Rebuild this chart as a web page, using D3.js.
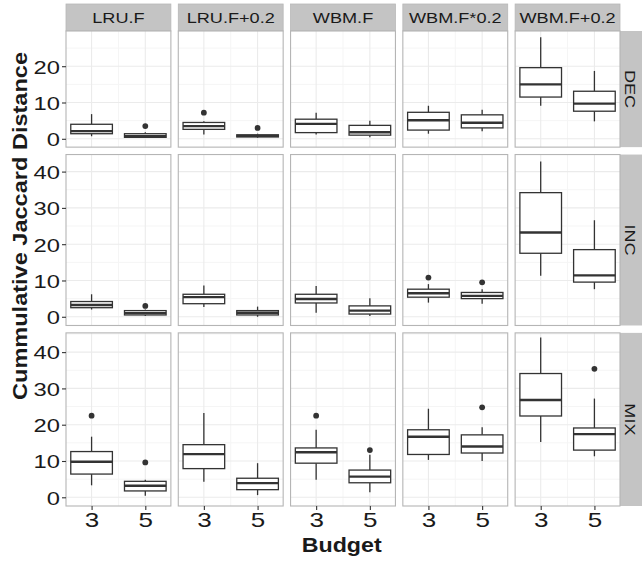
<!DOCTYPE html>
<html>
<head>
<meta charset="utf-8">
<script src="https://cdn.jsdelivr.net/npm/d3@7"></script>
<style>
  html, body { margin: 0; padding: 0; background: #fff; }
  svg { display: block; font-family: "Liberation Sans", Arial, Helvetica, sans-serif; }
</style>
</head>
<body>
<svg id="chart" width="642" height="561"></svg>
<script>
// ---------------- data ----------------
const methods = ["LRU.F", "LRU.F+0.2", "WBM.F", "WBM.F*0.2", "WBM.F+0.2"];
const scenarios = ["DEC", "INC", "MIX"];
const budgets = [3, 5];
const budgetTicks = [3, 5];

// [method, budget, lowerWhisker, q1, median, q3, upperWhisker]
const decStats = [
  ["LRU.F", 3, 0.7, 1.4, 2.1, 4.0, 6.8],
  ["LRU.F", 5, 0.2, 0.4, 0.7, 1.4, 1.8],
  ["LRU.F+0.2", 3, 1.2, 2.6, 3.5, 4.5, 4.8],
  ["LRU.F+0.2", 5, 0.3, 0.5, 0.8, 1.1, 1.4],
  ["WBM.F", 3, 1.2, 1.7, 4.1, 5.4, 7.2],
  ["WBM.F", 5, 0.4, 1.0, 1.8, 3.7, 5.0],
  ["WBM.F*0.2", 3, 1.4, 2.4, 5.1, 7.3, 9.1],
  ["WBM.F*0.2", 5, 2.1, 3.0, 4.4, 6.6, 8.0],
  ["WBM.F+0.2", 3, 9.1, 11.5, 15.0, 19.6, 28.0],
  ["WBM.F+0.2", 5, 4.8, 7.6, 9.7, 13.1, 18.7]
];
const incStats = [
  ["LRU.F", 3, 2.0, 2.5, 3.25, 4.2, 6.2],
  ["LRU.F", 5, 0.2, 0.5, 1.0, 1.7, 2.0],
  ["LRU.F+0.2", 3, 2.7, 3.6, 5.4, 6.2, 8.6],
  ["LRU.F+0.2", 5, 0.0, 0.5, 1.1, 1.7, 2.8],
  ["WBM.F", 3, 1.1, 3.8, 4.9, 6.2, 8.5],
  ["WBM.F", 5, 0.2, 0.75, 1.7, 3.0, 5.1],
  ["WBM.F*0.2", 3, 3.9, 5.4, 6.5, 7.6, 9.0],
  ["WBM.F*0.2", 5, 3.6, 5.0, 5.75, 6.7, 7.6],
  ["WBM.F+0.2", 3, 11.3, 17.5, 23.2, 34.2, 42.8],
  ["WBM.F+0.2", 5, 7.6, 9.55, 11.4, 18.5, 26.6]
];
const mixStats = [
  ["LRU.F", 3, 3.3, 6.4, 9.8, 12.6, 16.7],
  ["LRU.F", 5, 0.4, 1.75, 3.2, 4.4, 4.8],
  ["LRU.F+0.2", 3, 4.3, 7.9, 11.9, 14.5, 23.2],
  ["LRU.F+0.2", 5, 0.6, 2.1, 3.9, 5.25, 9.4],
  ["WBM.F", 3, 4.8, 9.4, 12.4, 13.6, 18.6],
  ["WBM.F", 5, 1.4, 4.0, 5.7, 7.5, 11.7],
  ["WBM.F*0.2", 3, 10.3, 11.8, 16.7, 18.6, 24.4],
  ["WBM.F*0.2", 5, 10.0, 12.2, 14.0, 17.2, 19.3],
  ["WBM.F+0.2", 3, 15.2, 22.4, 26.8, 34.1, 44.0],
  ["WBM.F+0.2", 5, 11.3, 13.0, 17.4, 19.1, 27.2]
];
// [method, budget, value]
const decOutliers = [["LRU.F", 5, 3.5], ["LRU.F+0.2", 3, 7.2], ["LRU.F+0.2", 5, 3.0]];
const incOutliers = [["LRU.F", 5, 3.0], ["WBM.F*0.2", 3, 10.8], ["WBM.F*0.2", 5, 9.5]];
const mixOutliers = [["LRU.F", 3, 22.5], ["LRU.F", 5, 9.6], ["WBM.F", 3, 22.5], ["WBM.F", 5, 13.0],
                     ["WBM.F*0.2", 5, 24.8], ["WBM.F+0.2", 5, 35.4]];

const decTicks = [0, 10, 20];
const incTicks = [0, 10, 20, 30, 40];
const mixTicks = [0, 10, 20, 30, 40];

const statsByRow = [decStats, incStats, mixStats];
const outliersByRow = [decOutliers, incOutliers, mixOutliers];
const ticksByRow = [decTicks, incTicks, mixTicks];
// y-limits of each row (free scales, free space)
const yLimits = [[-2.3, 29.7], [-2.4, 44.7], [-2.4, 45.3]];

// ---------------- layout ----------------
const svg = d3.select("#chart");
const pLeft = 66, pRight = 620, pTop = 31, pBottom = 506;
const gap = 7.4;
const stripH = 27;
const panelW = (pRight - pLeft - gap * (methods.length - 1)) / methods.length;
const totalRange = d3.sum(yLimits, d => d[1] - d[0]);
const panelHs = yLimits.map(d => (pBottom - pTop - gap * (scenarios.length - 1)) * (d[1] - d[0]) / totalRange);
const rowTops = [];
{ let yy = pTop; panelHs.forEach(h => { rowTops.push(yy); yy += h + gap; }); }

const boxW = 1.55;
const xLo = budgets[0] - boxW / 2, xHi = budgets[1] + boxW / 2;
const xPad = (xHi - xLo) * 0.05;
const x = d3.scaleLinear().domain([xLo - xPad, xHi + xPad]).range([0, panelW]);

const textCol = "#1a1a1a";
const lineCol = "#333333";
const gridMajor = "#ebebeb";
const gridMinor = "#f5f5f5";
const borderCol = "#b5b5b5";
const stripFill = "#c4c4c4";

// strips for columns
methods.forEach((m, ci) => {
  const px = pLeft + ci * (panelW + gap);
  const g = svg.append("g").attr("transform", `translate(${px},${pTop - stripH})`);
  g.append("rect").attr("width", panelW).attr("height", stripH)
    .attr("fill", stripFill).attr("stroke", "#b8b8b8").attr("stroke-width", 0.8);
  g.append("text").attr("y", stripH / 2 + 5.6)
    .attr("text-anchor", "middle").attr("font-size", 15.5).attr("fill", textCol)
    .attr("transform", `translate(${panelW / 2},0) scale(1.17,1)`)
    .attr("x", 0)
    .text(m);
});

scenarios.forEach((s, ri) => {
  const py = rowTops[ri], ph = panelHs[ri];
  const y = d3.scaleLinear().domain(yLimits[ri]).range([ph, 0]);
  const major = ticksByRow[ri];
  const minor = d3.range(5, yLimits[ri][1], 10);

  // row strip
  const sg = svg.append("g").attr("transform", `translate(${pRight},${py})`);
  sg.append("rect").attr("width", stripH).attr("height", ph).attr("fill", stripFill);
  sg.append("text").attr("font-size", 15.5).attr("fill", textCol).attr("text-anchor", "middle")
    .attr("transform", `translate(${stripH / 2 - 2.5},${ph / 2}) rotate(90) scale(1.17,1)`)
    .attr("dy", "0.36em")
    .text(s);

  methods.forEach((m, ci) => {
    const px = pLeft + ci * (panelW + gap);
    const g = svg.append("g").attr("transform", `translate(${px},${py})`);
    g.append("rect").attr("width", panelW).attr("height", ph).attr("fill", "#fff");
    // grid
    g.selectAll(".ymin").data(minor).join("line")
      .attr("x1", 0).attr("x2", panelW).attr("y1", d => y(d)).attr("y2", d => y(d))
      .attr("stroke", gridMinor).attr("stroke-width", 1);
    g.selectAll(".xmin").data([4]).join("line")
      .attr("y1", 0).attr("y2", ph).attr("x1", d => x(d)).attr("x2", d => x(d))
      .attr("stroke", gridMinor).attr("stroke-width", 1);
    g.selectAll(".ymaj").data(major).join("line")
      .attr("x1", 0).attr("x2", panelW).attr("y1", d => y(d)).attr("y2", d => y(d))
      .attr("stroke", gridMajor).attr("stroke-width", 1.1);
    g.selectAll(".xmaj").data(budgetTicks).join("line")
      .attr("y1", 0).attr("y2", ph).attr("x1", d => x(d)).attr("x2", d => x(d))
      .attr("stroke", gridMajor).attr("stroke-width", 1.1);

    // boxes
    const rows = statsByRow[ri].filter(d => d[0] === m);
    rows.forEach(d => {
      const [, b, lo, q1, med, q3, hi] = d;
      const cx = x(b), x0 = x(b - boxW / 2), x1 = x(b + boxW / 2);
      g.append("line").attr("x1", cx).attr("x2", cx).attr("y1", y(q3)).attr("y2", y(hi))
        .attr("stroke", lineCol).attr("stroke-width", 1.3);
      g.append("line").attr("x1", cx).attr("x2", cx).attr("y1", y(q1)).attr("y2", y(lo))
        .attr("stroke", lineCol).attr("stroke-width", 1.3);
      g.append("rect").attr("x", x0).attr("width", x1 - x0)
        .attr("y", y(q3)).attr("height", Math.max(0, y(q1) - y(q3)))
        .attr("fill", "#fff").attr("stroke", lineCol).attr("stroke-width", 1.3);
      g.append("line").attr("x1", x0).attr("x2", x1).attr("y1", y(med)).attr("y2", y(med))
        .attr("stroke", lineCol).attr("stroke-width", 2.4);
    });
    g.selectAll(".out").data(outliersByRow[ri].filter(d => d[0] === m)).join("circle")
      .attr("cx", d => x(d[1])).attr("cy", d => y(d[2])).attr("r", 2.9)
      .attr("fill", lineCol);

    g.append("rect").attr("width", panelW).attr("height", ph)
      .attr("fill", "none").attr("stroke", borderCol).attr("stroke-width", 1.1);

    // y axis on first column
    if (ci === 0) {
      const ax = g.append("g").call(d3.axisLeft(y).tickValues(major).tickSize(4).tickPadding(2));
      ax.select(".domain").remove();
      ax.selectAll(".tick line").attr("stroke", lineCol).attr("stroke-width", 1.1);
      ax.selectAll(".tick text").attr("font-size", 19).attr("fill", textCol)
        .attr("font-family", "Liberation Sans, Arial, sans-serif")
        .attr("x", -6 / 1.25).attr("dy", "0.36em")
        .attr("transform", "scale(1.25,1)");
    }
    // x axis on last row
    if (ri === scenarios.length - 1) {
      const ax = g.append("g").attr("transform", `translate(0,${ph})`)
        .call(d3.axisBottom(x).tickValues(budgetTicks).tickFormat(d3.format("d")).tickSize(4).tickPadding(3));
      ax.select(".domain").remove();
      ax.selectAll(".tick line").attr("stroke", lineCol).attr("stroke-width", 1.1);
      ax.selectAll(".tick text").attr("font-size", 20).attr("fill", textCol)
        .attr("font-family", "Liberation Sans, Arial, sans-serif")
        .attr("dy", "0.71em")
        .attr("transform", "scale(1.3,1)");
    }
  });
});

// axis titles
svg.append("text").attr("x", 341.7).attr("y", 551.5).attr("text-anchor", "middle")
  .attr("font-size", 21).attr("font-weight", "bold").attr("fill", textCol)
  .attr("textLength", 80).attr("lengthAdjust", "spacingAndGlyphs")
  .text("Budget");
svg.append("text").attr("transform", "translate(27,226) rotate(-90)").attr("text-anchor", "middle")
  .attr("font-size", 21).attr("font-weight", "bold").attr("fill", textCol)
  .attr("textLength", 348).attr("lengthAdjust", "spacingAndGlyphs")
  .text("Cummulative Jaccard Distance");
</script>
</body>
</html>
